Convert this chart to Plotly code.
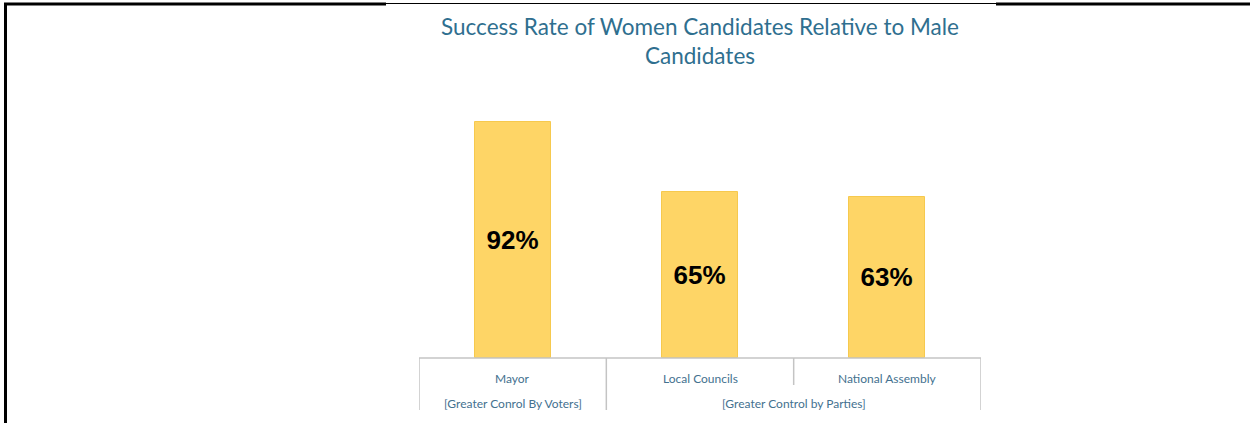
import plotly.graph_objects as go

categories = ["Mayor", "Local Councils", "National Assembly"]
values = [92, 65, 63]
value_labels = ["92%", "65%", "63%"]
group_labels = ["[Greater Conrol By Voters]", "[Greater Control by Parties]"]
group_centers = [0, 1.5]

L, R, T, B = 419, 269, 102, 65
W, H = 1250, 423
pw, ph = W - L - R, H - T - B

def px_x(p):
    return (p - L) / pw

def px_y(p):
    return (H - B - p) / ph

fig = go.Figure()
fig.add_trace(go.Bar(
    x=list(range(len(categories))), y=values,
    width=0.405,
    marker=dict(color="#fed566", line=dict(color="#f6c94e", width=1)),
    text=value_labels, textposition="inside", insidetextanchor="middle",
    textfont=dict(family="Liberation Sans, Arial", size=26, color="#000000", weight="bold"),
    textangle=0,
    hoverinfo="skip",
))

shapes = []
grey = "#c4c4c4"
shapes.append(dict(type="line", xref="x", yref="paper", x0=-0.5, x1=2.5, y0=0, y1=0,
                   line=dict(color=grey, width=1.5)))
for xv, ylow in [(-0.5, px_y(410)), (0.5, px_y(410)), (1.5, px_y(385)), (2.5, px_y(410))]:
    shapes.append(dict(type="line", xref="x", yref="paper", x0=xv, x1=xv, y0=0, y1=ylow,
                       line=dict(color=grey, width=1.5)))
# black frame of screenshot
shapes.append(dict(type="line", xref="paper", yref="paper", x0=px_x(5.5), x1=px_x(5.5),
                   y0=px_y(3), y1=px_y(430), line=dict(color="black", width=3)))
shapes.append(dict(type="line", xref="paper", yref="paper", x0=px_x(4), x1=px_x(386),
                   y0=px_y(4), y1=px_y(4), line=dict(color="black", width=3)))
shapes.append(dict(type="line", xref="paper", yref="paper", x0=px_x(386), x1=px_x(996),
                   y0=px_y(3.5), y1=px_y(3.5), line=dict(color="black", width=1.2)))
shapes.append(dict(type="line", xref="paper", yref="paper", x0=px_x(996), x1=px_x(1252),
                   y0=px_y(4), y1=px_y(4), line=dict(color="black", width=3)))

annotations = []
label_font = dict(family="Lato, Open Sans, sans-serif", size=12, color="#44718f")
for i, c in enumerate(categories):
    annotations.append(dict(x=i, y=0, xref="x", yref="paper", text=c, showarrow=False,
                            yanchor="middle", yshift=-20, font=label_font))
for gx, gl in zip(group_centers, group_labels):
    annotations.append(dict(x=gx, y=0, xref="x", yref="paper", text=gl, showarrow=False,
                            yanchor="middle", yshift=-45, font=label_font))

fig.update_layout(
    width=W, height=H,
    margin=dict(l=L, r=R, t=T, b=B),
    paper_bgcolor="white", plot_bgcolor="white",
    showlegend=False,
    title=dict(text="Success Rate of Women Candidates Relative to Male<br>Candidates",
               x=(L + pw / 2) / W, xanchor="center", y=1 - 35 / H, yanchor="middle",
               font=dict(family="Lato, Open Sans, sans-serif", size=22.5, color="#2f6f8f")),
    xaxis=dict(range=[-0.5, 2.5], showticklabels=False, showgrid=False, zeroline=False,
               showline=False, ticks="", fixedrange=True),
    yaxis=dict(range=[0, 100], visible=False, showgrid=False, zeroline=False, fixedrange=True),
    shapes=shapes, annotations=annotations,
    bargap=0,
)

fig.write_html("out.html", config={"displayModeBar": False},
               post_script="document.body.style.margin='0';document.body.style.overflow='hidden';")
